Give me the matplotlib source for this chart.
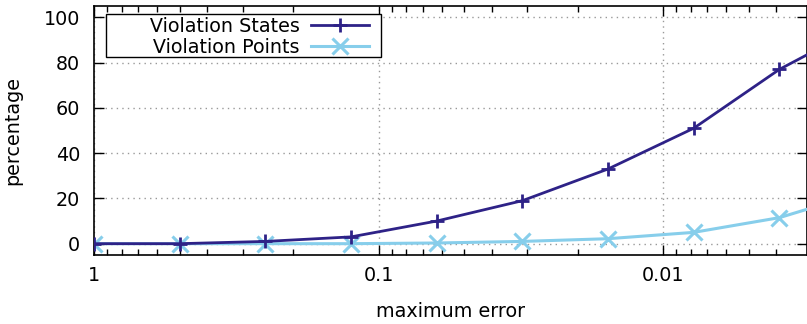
import matplotlib
matplotlib.use("Agg")
import matplotlib.pyplot as plt
from matplotlib.patches import Rectangle
from matplotlib.ticker import LogLocator, NullFormatter, FixedLocator, FixedFormatter

max_error = [1, 0.5, 0.25, 0.125, 0.0625, 0.03125, 0.015625, 0.0078125, 0.00390625, 0.001953125]
violation_states = [0, 0, 1, 3, 10, 19, 33, 51, 77, 97]
violation_points = [0, 0, 0, 0, 0.3, 1, 2.2, 5, 11.5, 23]
x_ticks = [1, 0.1, 0.01]
x_tick_labels = ["1", "0.1", "0.01"]
y_ticks = [0, 20, 40, 60, 80, 100]

plt.rcParams['font.family'] = ['DejaVu Sans']
fs = 13.8
fig = plt.figure(figsize=(8.07, 3.24), dpi=100)
ax = fig.add_axes([94/807, 1-255/324, (807-94)/807, (255-6)/324])

c_states = "#2e2287"
c_points = "#87ceeb"
ax.plot(max_error, violation_points, color=c_points, lw=2.2, marker="x", ms=11, mew=2.2,
        label="Violation Points", zorder=3)
ax.plot(max_error, violation_states, color=c_states, lw=2, marker="+", ms=10.5, mew=2,
        label="Violation States", zorder=4)

ax.set_xscale("log")
ax.set_xlim(1, 0.003125)
ax.set_ylim(-5, 105)
ax.xaxis.set_major_locator(FixedLocator(x_ticks))
ax.xaxis.set_major_formatter(FixedFormatter(x_tick_labels))
ax.xaxis.set_minor_locator(LogLocator(base=10, subs=range(2, 10), numticks=20))
ax.xaxis.set_minor_formatter(NullFormatter())
ax.set_yticks(y_ticks)

ax.tick_params(which="both", direction="in", top=True, right=True, labelsize=fs, color="black")
ax.tick_params(which="major", length=7, width=1)
ax.tick_params(which="minor", length=4, width=1)
ax.tick_params(axis="x", pad=8)
ax.tick_params(axis="y", pad=10)
ax.grid(True, which="major", color="#999999", linestyle=(0, (1, 3)), lw=1)
for s in ax.spines.values():
    s.set_linewidth(1.2)

ax.set_xlabel("maximum error", fontsize=fs, labelpad=12)
ax.set_ylabel("percentage", fontsize=fs)
ax.yaxis.set_label_coords(-0.101, 0.5)

# legend frame
ax.add_patch(Rectangle((12/713, 1-51/249), 275/713, 43/249, transform=ax.transAxes,
                       facecolor="white", edgecolor="black", lw=1, zorder=4.5))

handles, labels = ax.get_legend_handles_labels()
pad = "       "
leg = ax.legend(handles[::-1], [pad + l for l in labels[::-1]], loc="upper left",
                bbox_to_anchor=(10/713, 1-8/249), frameon=False,
                markerfirst=False, fontsize=fs,
                borderpad=0.15, labelspacing=0.1, handlelength=3.0,
                handletextpad=0.6, borderaxespad=0)
leg.set_zorder(6)

fig.savefig("out.png", dpi=100)
